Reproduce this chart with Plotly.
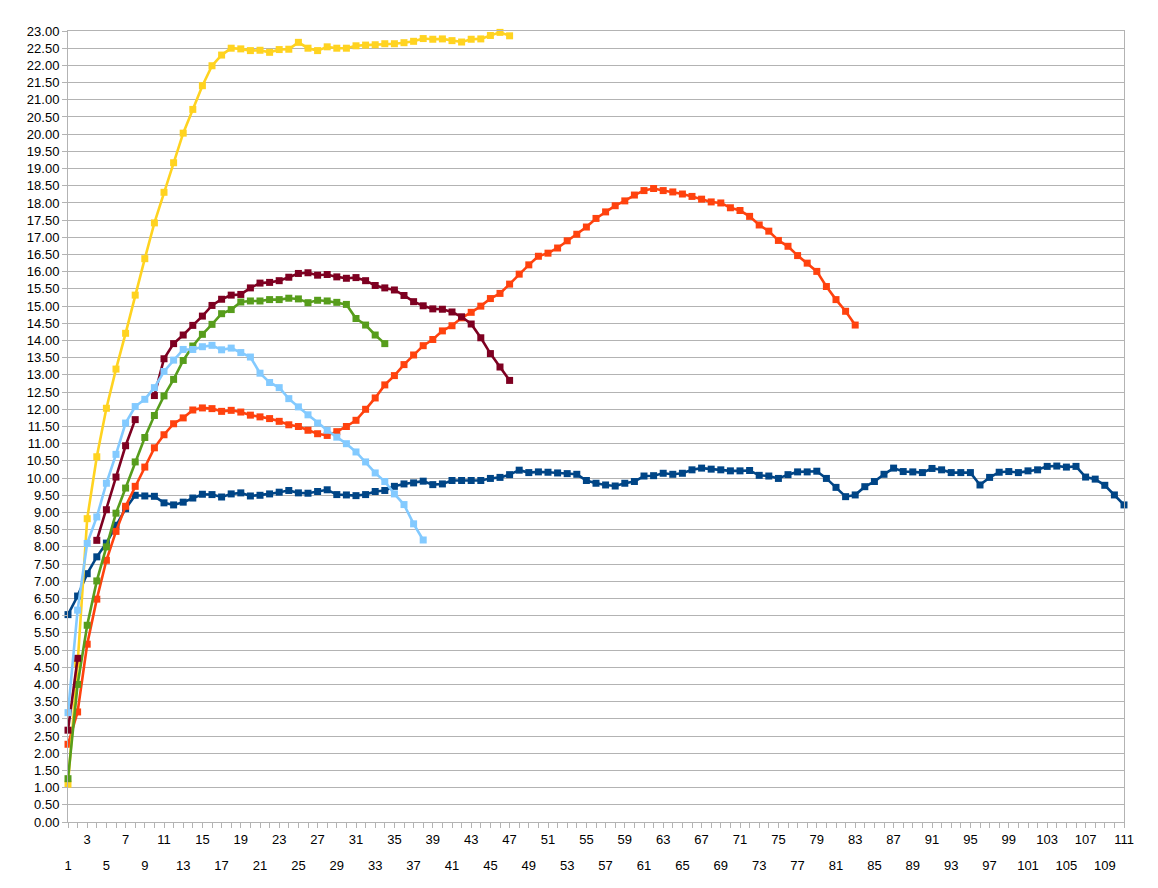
import plotly.graph_objects as go

# series values, indexed from category 1
dark_blue = [6.03, 6.57, 7.22, 7.71, 8.11, 8.63, 9.11, 9.5, 9.48, 9.47,
             9.28, 9.22, 9.3, 9.42, 9.53, 9.52, 9.45, 9.54, 9.57, 9.48,
             9.5, 9.54, 9.59, 9.64, 9.57, 9.56, 9.61, 9.66, 9.52, 9.51,
             9.49, 9.52, 9.61, 9.64, 9.76, 9.83, 9.86, 9.91, 9.81, 9.83,
             9.93, 9.93, 9.93, 9.93, 9.99, 10.02, 10.1, 10.23, 10.16, 10.18,
             10.17, 10.15, 10.13, 10.11, 9.93, 9.85, 9.8, 9.77, 9.85, 9.9,
             10.06, 10.07, 10.14, 10.11, 10.14, 10.24, 10.29, 10.26, 10.24, 10.21,
             10.21, 10.22, 10.08, 10.06, 9.99, 10.1, 10.18, 10.18, 10.2, 9.99,
             9.73, 9.46, 9.51, 9.75, 9.9, 10.11, 10.29, 10.19, 10.18, 10.16,
             10.28, 10.24, 10.16, 10.16, 10.16, 9.8, 10.02, 10.17, 10.19, 10.16,
             10.21, 10.24, 10.34, 10.35, 10.32, 10.34, 10.03, 9.97, 9.79, 9.51, 9.22]

orange = [2.26, 3.2, 5.17, 6.48, 7.61, 8.45, 9.18, 9.76, 10.32, 10.88,
          11.26, 11.58, 11.75, 11.98, 12.04, 12.02, 11.94, 11.97, 11.92, 11.83,
          11.78, 11.73, 11.65, 11.55, 11.5, 11.39, 11.29, 11.24, 11.35, 11.5,
          11.68, 12.0, 12.33, 12.71, 12.98, 13.3, 13.58, 13.85, 14.03, 14.28,
          14.43, 14.66, 14.82, 15.0, 15.22, 15.37, 15.64, 15.93, 16.2, 16.45,
          16.54, 16.69, 16.9, 17.09, 17.3, 17.55, 17.74, 17.92, 18.06, 18.23,
          18.36, 18.42, 18.36, 18.32, 18.26, 18.19, 18.11, 18.03, 18.0, 17.86,
          17.78, 17.61, 17.36, 17.18, 16.91, 16.74, 16.47, 16.25, 16.01, 15.57,
          15.19, 14.85, 14.45]

yellow = [1.1, 4.6, 8.82, 10.62, 12.03, 13.17, 14.21, 15.32, 16.38, 17.42,
          18.31, 19.17, 20.03, 20.72, 21.41, 21.99, 22.3, 22.5, 22.48, 22.43,
          22.44, 22.38, 22.46, 22.47, 22.67, 22.5, 22.43, 22.54, 22.5, 22.5,
          22.57, 22.59, 22.6, 22.63, 22.63, 22.66, 22.7, 22.78, 22.76, 22.77,
          22.72, 22.68, 22.76, 22.77, 22.87, 22.96, 22.86]

green = [1.26, 4.0, 5.72, 7.01, 8.0, 8.98, 9.71, 10.47, 11.18, 11.82,
         12.39, 12.87, 13.42, 13.84, 14.18, 14.47, 14.78, 14.9, 15.12, 15.15,
         15.15, 15.19, 15.19, 15.23, 15.21, 15.1, 15.17, 15.15, 15.11, 15.05,
         14.64, 14.45, 14.16, 13.91]

dark_red = [2.67, 4.76, None, 8.19, 9.08, 10.03, 10.94, 11.7, None, 12.4,
            13.47, 13.91, 14.16, 14.44, 14.71, 15.02, 15.2, 15.32, 15.34, 15.53,
            15.67, 15.69, 15.74, 15.84, 15.95, 15.97, 15.9, 15.92, 15.85, 15.81,
            15.83, 15.74, 15.6, 15.53, 15.47, 15.31, 15.13, 15.01, 14.92, 14.91,
            14.83, 14.69, 14.48, 14.08, 13.62, 13.23, 12.84]

light_blue = [3.18, 6.16, 8.1, 8.87, 9.85, 10.69, 11.6, 12.08, 12.29, 12.63,
              13.1, 13.43, 13.74, 13.74, 13.82, 13.86, 13.73, 13.78, 13.65, 13.52,
              13.05, 12.78, 12.63, 12.31, 12.07, 11.84, 11.6, 11.39, 11.19, 11.0,
              10.76, 10.47, 10.15, 9.9, 9.54, 9.23, 8.67, 8.2]

categories = list(range(1, 112))
upper_labels = list(range(3, 112, 4))
lower_labels = list(range(1, 112, 4))

series = [
    (dark_blue, '#004586'),
    (orange, '#FF420E'),
    (yellow, '#FFD320'),
    (green, '#579D1C'),
    (dark_red, '#7E0021'),
    (light_blue, '#83CAFF'),
]

grid = '#b3b3b3'
font = dict(family='Liberation Sans, Arial, sans-serif', size=13, color='black')

fig = go.Figure()
for values, color in series:
    fig.add_trace(go.Scatter(
        x=categories[:len(values)], y=values,
        mode='lines+markers',
        line=dict(color=color, width=2.6),
        marker=dict(symbol='square', size=7, color=color),
        cliponaxis=False,
        connectgaps=False,
        showlegend=False,
    ))

# invisible trace so the second (staggered) label row gets drawn
fig.add_trace(go.Scatter(x=[1, 111], y=[None, None], xaxis='x2',
                         showlegend=False, hoverinfo='skip'))

# page body has an 8px margin, so the figure is a bit smaller than the window
fig.update_layout(
    width=1150, height=880,
    margin=dict(l=60, r=34, t=23, b=66),
    paper_bgcolor='white',
    plot_bgcolor='white',
    font=font,
    xaxis=dict(
        range=[1, 111],
        tickmode='array', tickvals=upper_labels,
        ticktext=[str(v) for v in upper_labels],
        ticks='outside', ticklen=5, tickcolor=grid,
        minor=dict(tickmode='array', tickvals=categories, ticks='outside',
                   ticklen=5, tickcolor=grid),
        showgrid=False, zeroline=False,
        showline=True, linecolor=grid, linewidth=1, mirror=True,
        tickfont=font,
    ),
    xaxis2=dict(
        range=[1, 111], overlaying='x', anchor='y', side='bottom',
        tickmode='array', tickvals=lower_labels,
        ticktext=[str(v) for v in lower_labels],
        ticks='', ticklabelstandoff=34,
        showgrid=False, zeroline=False, showline=False,
        tickfont=font,
    ),
    yaxis=dict(
        range=[0, 23], dtick=0.5, tick0=0, tickformat='.2f',
        ticks='outside', ticklen=5, tickcolor=grid,
        showgrid=True, gridcolor=grid, gridwidth=1,
        zeroline=False,
        showline=True, linecolor=grid, linewidth=1, mirror=True,
        tickfont=font,
    ),
)

fig.write_html("out.html")
